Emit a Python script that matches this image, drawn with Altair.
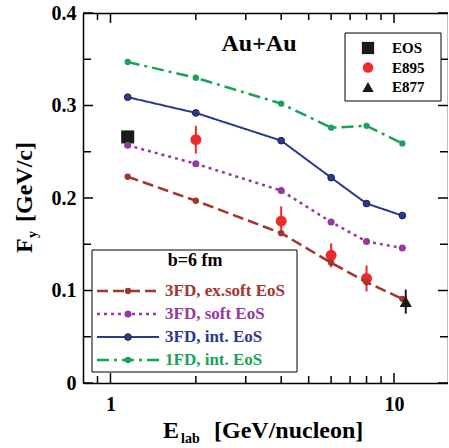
import altair as alt
import pandas as pd

# ---------------- data ----------------
E_model = [1.15, 2, 4, 6, 8, 10.7]
fy_exsoft = [0.223, 0.197, 0.162, 0.130, 0.109, 0.091]
fy_soft = [0.257, 0.237, 0.208, 0.174, 0.153, 0.146]
fy_int = [0.309, 0.292, 0.262, 0.222, 0.194, 0.181]
fy_1fd = [0.347, 0.330, 0.302, 0.276, 0.278, 0.259]

series_names = ["3FD, ex.soft EoS", "3FD, soft EoS", "3FD, int. EoS", "1FD, int. EoS"]
series_vals = [fy_exsoft, fy_soft, fy_int, fy_1fd]
series_colors = ["#A5352C", "#95389F", "#2B3990", "#1AA358"]
series_dash = [[11, 5], [3, 4], [1, 0], [12, 5, 3, 5]]
series_size = [40, 50, 45, 40]

E_e895 = [2, 4, 6, 8]
fy_e895 = [0.263, 0.175, 0.138, 0.113]
err_e895 = [0.015, 0.016, 0.013, 0.014]

E_eos = [1.15]
fy_eos = [0.266]

E_e877 = [11.0]
fy_e877 = [0.088]
err_e877 = [0.013]

x_major = [1, 10]
x_minor = [0.9, 2, 3, 4, 5, 6, 7, 8, 9]
y_major = [0, 0.1, 0.2, 0.3, 0.4]
y_minor = [0.05, 0.15, 0.25, 0.35]

# ---------------- layout ----------------
FONT = "Liberation Serif"
PL, PT = 83, 13
W, H = 365, 370
xscale = alt.Scale(type="log", domain=[0.8, 15.5])
yscale = alt.Scale(domain=[0, 0.4])


def xaxis(orient, show):
    kw = dict(orient=orient, values=x_major, labels=show, ticks=False,
              domain=True, domainColor="black", domainWidth=1.5, grid=False,
              title=None, labelOverlap=False)
    if show:
        kw.update(format="d", labelPadding=11, labelFont=FONT, labelFontSize=20,
                  labelFontWeight="bold", labelColor="black")
    return alt.Axis(**kw)


def yaxis(orient, show):
    kw = dict(orient=orient, values=y_major, labels=show, ticks=False,
              domain=True, domainColor="black", domainWidth=1.5, grid=False,
              title=None, labelOverlap=False)
    if show:
        kw.update(labelExpr="datum.value == 0 ? '0' : format(datum.value, '.1f')",
                  labelPadding=7, labelFont=FONT, labelFontSize=20, labelFontWeight="bold",
                  labelColor="black")
    return alt.Axis(**kw)


layers = []

# E895 error bars (carry bottom/left axes)
df895 = pd.DataFrame({"E": E_e895, "Fy": fy_e895, "err": err_e895})
df895["lo"] = df895["Fy"] - df895["err"]
df895["hi"] = df895["Fy"] + df895["err"]
layers.append(
    alt.Chart(df895).mark_rule(color="#EE2A2A", strokeWidth=2).encode(
        x=alt.X("E:Q", scale=xscale, axis=xaxis("bottom", True)),
        y=alt.Y("lo:Q", scale=yscale, axis=yaxis("left", True)),
        y2="hi:Q",
    )
)
# E895 points (carry top/right axes)
layers.append(
    alt.Chart(df895).mark_point(filled=True, shape="circle", size=120, color="#EE2A2A", opacity=1).encode(
        x=alt.X("E:Q", scale=xscale, axis=xaxis("top", False)),
        y=alt.Y("Fy:Q", scale=yscale, axis=yaxis("right", False)),
    )
)

# inward tick marks on all four sides
for vals, ln in ((x_major, 10), (x_minor, 7)):
    dft = pd.DataFrame({"E": vals})
    layers.append(alt.Chart(dft).mark_rule(color="black", strokeWidth=1.5).encode(
        x=alt.X("E:Q", scale=xscale, axis=None), y=alt.value(H), y2=alt.value(H - ln)))
    layers.append(alt.Chart(dft).mark_rule(color="black", strokeWidth=1.5).encode(
        x=alt.X("E:Q", scale=xscale, axis=None), y=alt.value(0), y2=alt.value(ln)))
for vals, ln in ((y_major, 10), (y_minor, 8)):
    dft = pd.DataFrame({"Fy": vals})
    layers.append(alt.Chart(dft).mark_rule(color="black", strokeWidth=1.5).encode(
        y=alt.Y("Fy:Q", scale=yscale, axis=None), x=alt.value(0), x2=alt.value(ln)))
    layers.append(alt.Chart(dft).mark_rule(color="black", strokeWidth=1.5).encode(
        y=alt.Y("Fy:Q", scale=yscale, axis=None), x=alt.value(W), x2=alt.value(W - ln)))

# EOS square
dfeos = pd.DataFrame({"E": E_eos, "Fy": fy_eos})
layers.append(
    alt.Chart(dfeos).mark_point(filled=True, shape="square", size=170, color="#1A1A1A", opacity=1).encode(
        x=alt.X("E:Q", scale=xscale, axis=None),
        y=alt.Y("Fy:Q", scale=yscale, axis=None),
    )
)

# model curves
for name, vals, col, dash, sz in zip(series_names, series_vals, series_colors, series_dash, series_size):
    dfm = pd.DataFrame({"E": E_model, "Fy": vals})
    sw = 2.5 if name != "3FD, int. EoS" else 2
    layers.append(
        alt.Chart(dfm).mark_line(color=col, strokeDash=dash, strokeWidth=sw).encode(
            x=alt.X("E:Q", scale=xscale, axis=None),
            y=alt.Y("Fy:Q", scale=yscale, axis=None),
        )
    )
    pt_kw = dict(filled=True, shape="circle", size=sz, color=col, opacity=1)
    if name == "3FD, int. EoS":
        pt_kw.update(stroke="#1C2050", strokeWidth=1)
    layers.append(
        alt.Chart(dfm).mark_point(**pt_kw).encode(
            x=alt.X("E:Q", scale=xscale, axis=None),
            y=alt.Y("Fy:Q", scale=yscale, axis=None),
        )
    )

# E877 triangle with error bar
df877 = pd.DataFrame({"E": E_e877, "Fy": fy_e877, "err": err_e877})
df877["lo"] = df877["Fy"] - df877["err"]
df877["hi"] = df877["Fy"] + df877["err"]
layers.append(
    alt.Chart(df877).mark_rule(color="#1A1A1A", strokeWidth=2).encode(
        x=alt.X("E:Q", scale=xscale, axis=None),
        y=alt.Y("lo:Q", scale=yscale, axis=None),
        y2="hi:Q",
    )
)
layers.append(
    alt.Chart(df877).mark_point(filled=True, shape="triangle-up", size=150, color="#1A1A1A", opacity=1).encode(
        x=alt.X("E:Q", scale=xscale, axis=None),
        y=alt.Y("Fy:Q", scale=yscale, axis=None),
    )
)

one = alt.Data(values=[{}])


def px(v):
    return alt.value(v - PL)


def py(v):
    return alt.value(v - PT)


def text(t, x, y, size, color="black", align="left", baseline="alphabetic", angle=0):
    return alt.Chart(one).mark_text(text=t, font=FONT, fontSize=size, fontWeight="bold",
                                    color=color, align=align, baseline=baseline, angle=angle).encode(
        x=px(x), y=py(y))


# "Au+Au"
layers.append(text("Au+Au", 259, 51, 24, align="center"))

# top-right legend
layers.append(alt.Chart(one).mark_rect(fill="white", stroke="black", strokeWidth=1).encode(
    x=px(345), x2=px(441), y=py(33), y2=py(101)))
legend1 = [("EOS", "square", "#1A1A1A", 150, 48), ("E895", "circle", "#EE2A2A", 110, 67.5),
           ("E877", "triangle-up", "#1A1A1A", 130, 87)]
for lab, shp, col, sz, yy in legend1:
    layers.append(alt.Chart(one).mark_point(filled=True, shape=shp, size=sz, color=col, opacity=1).encode(
        x=px(368), y=py(yy)))
    layers.append(text(lab, 392, yy, 15, baseline="middle"))

# bottom-left legend
layers.append(alt.Chart(one).mark_rect(fill="white", stroke="black", strokeWidth=1).encode(
    x=px(92), x2=px(297), y=py(250), y2=py(372)))
layers.append(text("b=6 fm", 195, 261, 18, align="center", baseline="middle"))
legend_rows = [291, 314, 337, 360]
for name, col, dash, sz, yy in zip(series_names, series_colors, series_dash, series_size, legend_rows):
    sw = 2.5 if name != "3FD, int. EoS" else 2
    layers.append(alt.Chart(one).mark_rule(color=col, strokeDash=dash, strokeWidth=sw).encode(
        x=px(97), x2=px(159), y=py(yy)))
    pt_kw = dict(filled=True, shape="circle", size=sz, color=col, opacity=1)
    if name == "3FD, int. EoS":
        pt_kw.update(stroke="#1C2050", strokeWidth=1)
    layers.append(alt.Chart(one).mark_point(**pt_kw).encode(x=px(128), y=py(yy)))
    layers.append(text(name, 165, yy, 17, color=col, baseline="middle"))

# axis titles
layers.append(text("E", 163, 438, 24))
layers.append(text("lab", 181, 443, 14))
layers.append(text("[GeV/nucleon]", 214, 438, 24))
layers.append(text("F", 32, 253, 24, angle=270))
layers.append(text("y", 37, 238, 14, angle=270))
layers.append(text("[GeV/c]", 32, 222, 24, angle=270))

chart = alt.layer(*layers).resolve_axis(x="independent", y="independent").properties(
    width=W, height=H,
    autosize=alt.AutoSizeParams(type="none"),
    padding={"left": PL, "top": PT, "right": 0, "bottom": 65},
    background="white",
).configure_view(stroke=None)

chart.save("out.html", embed_options={"renderer": "svg", "actions": False})
